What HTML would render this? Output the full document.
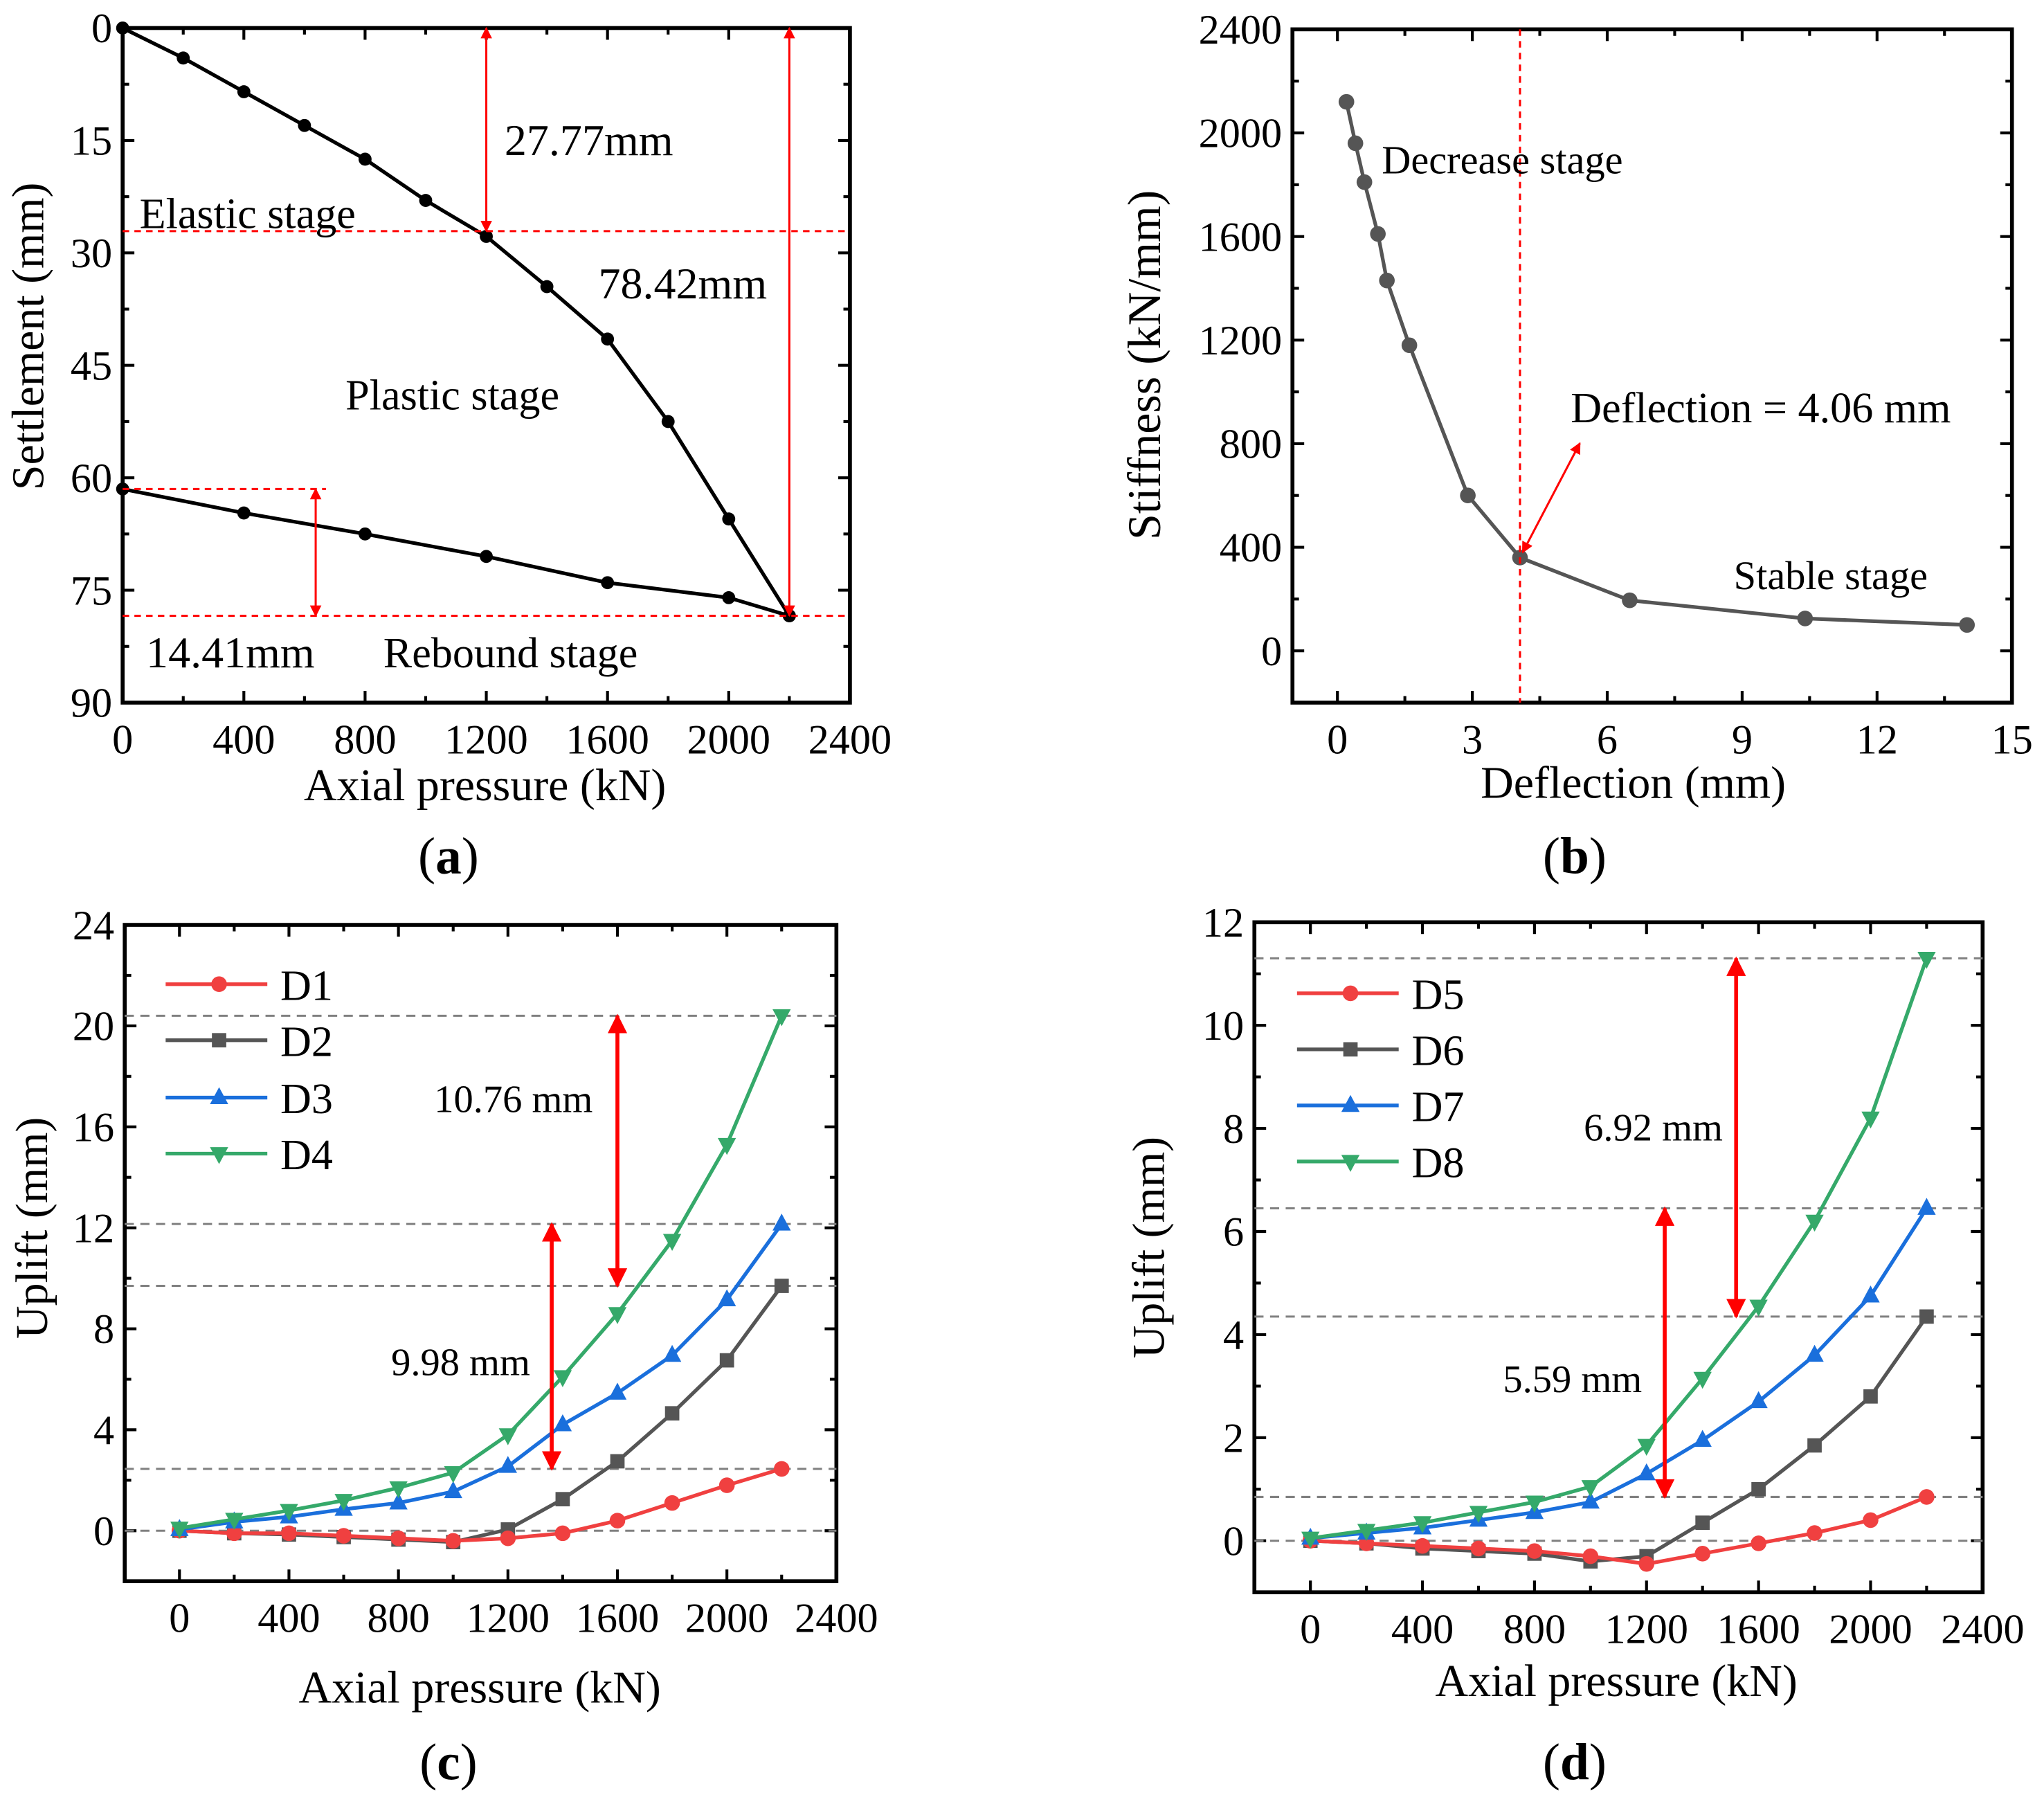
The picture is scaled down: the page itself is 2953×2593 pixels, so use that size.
<!DOCTYPE html>
<html><head><meta charset="utf-8"><style>
html,body{margin:0;padding:0;background:#fff}
svg{display:block}
text{font-family:"Liberation Serif","Times New Roman",serif;fill:#000}
</style></head><body>
<svg id="fig" width="2953" height="2593" viewBox="0 0 1568 1377" xmlns="http://www.w3.org/2000/svg">
<defs>
<marker id="ah" viewBox="0 0 10 10" refX="9" refY="5" markerWidth="5" markerHeight="5" orient="auto-start-reverse"><path d="M0,0 L10,5 L0,10 z" fill="#f00"/></marker>
<marker id="ahb" viewBox="0 0 10 10" refX="9" refY="5" markerWidth="5.5" markerHeight="5.5" orient="auto-start-reverse"><path d="M0,0 L10,5 L0,10 z" fill="#f00"/></marker>
</defs>
</svg>
<script>
// ---------- data ----------
const aLoadX=[0,200,400,600,800,1000,1200,1400,1600,1800,2000,2200];
const aLoadY=[0,4,8.5,13,17.5,23,27.8,34.5,41.5,52.5,65.5,78.42];
const aUnloadX=[2200,2000,1600,1200,800,400,0];
const aUnloadY=[78.42,76,74,70.5,67.5,64.7,61.5];
const bX=[0.2,0.4,0.6,0.9,1.1,1.6,2.9,4.06,6.5,10.4,14];
const bY=[2120,1960,1810,1610,1430,1180,600,360,195,125,100];
const pX=[0,200,400,600,800,1000,1200,1400,1600,1800,2000,2200];
const d1=[0,-0.1,-0.1,-0.2,-0.3,-0.4,-0.3,-0.1,0.4,1.1,1.8,2.45];
const d2=[0,-0.1,-0.15,-0.25,-0.35,-0.45,0.05,1.25,2.75,4.65,6.75,9.7];
const d3=[0.05,0.35,0.55,0.85,1.1,1.55,2.55,4.2,5.45,6.95,9.15,12.15];
const d4=[0.1,0.45,0.8,1.2,1.7,2.3,3.8,6.1,8.6,11.5,15.3,20.4];
const d5=[0,-0.05,-0.1,-0.15,-0.2,-0.3,-0.45,-0.25,-0.05,0.15,0.4,0.85];
const d6=[0,-0.05,-0.15,-0.2,-0.25,-0.4,-0.3,0.35,1.0,1.85,2.8,4.35];
const d7=[0.05,0.15,0.25,0.4,0.55,0.75,1.3,1.95,2.7,3.6,4.75,6.45];
const d8=[0.05,0.2,0.35,0.55,0.75,1.05,1.85,3.15,4.55,6.2,8.2,11.3];
const cRefLines=[0,2.45,9.7,12.15,20.4];
const dRefLines=[0,0.85,4.35,6.45,11.3];
const pTicks=[0,400,800,1200,1600,2000,2400];
const aYTicks=[0,15,30,45,60,75,90];
const bXTicks=[0,3,6,9,12,15];
const bYTicks=[0,400,800,1200,1600,2000,2400];
const cYTicks=[0,4,8,12,16,20,24];
const dYTicks=[0,2,4,6,8,10,12];

const NS="http://www.w3.org/2000/svg";
const svg=document.getElementById('fig');
function el(tag,attrs,parent,txt){const e=document.createElementNS(NS,tag);for(const k in attrs)e.setAttribute(k,attrs[k]);if(txt!==undefined)e.textContent=txt;(parent||svg).appendChild(e);return e;}

function axes(o){
  const g=el('g',{});
  
  
  const sx=v=>o.x0+(v-o.xmin)/(o.xmax-o.xmin)*(o.x1-o.x0);
  const sy=o.yinv?(v=>o.y0+(v-o.ymin)/(o.ymax-o.ymin)*(o.y1-o.y0)):(v=>o.y1-(v-o.ymin)/(o.ymax-o.ymin)*(o.y1-o.y0));
  const tg=el('g',{stroke:'#000','stroke-width':2.2},g);
  for(let v=o.xt0;v<=o.xmax+1e-9;v+=o.xminor){
    const major=Math.abs(((v-o.xt0)/o.xmajor)-Math.round((v-o.xt0)/o.xmajor))<1e-6;const L=major?9:5;const x=sx(v);
    el('line',{x1:x,x2:x,y1:o.y1,y2:o.y1-L},tg);el('line',{x1:x,x2:x,y1:o.y0,y2:o.y0+L},tg);
  }
  for(let v=o.ymin;v<=o.ymax+1e-9;v+=o.yminor){
    if(v<o.yt0-1e-9)continue;
    const major=Math.abs(((v-o.yt0)/o.ymajor)-Math.round((v-o.yt0)/o.ymajor))<1e-6;const L=major?9:5;const y=sy(v);
    el('line',{x1:o.x0,x2:o.x0+L,y1:y,y2:y},tg);el('line',{x1:o.x1,x2:o.x1-L,y1:y,y2:y},tg);
  }
  el('rect',{x:o.x0,y:o.y0,width:o.x1-o.x0,height:o.y1-o.y0,fill:'none',stroke:'#000','stroke-width':3},g);
  o.xticks.forEach(v=>{const t=el('text',{x:sx(v),y:o.y1+o.xlabOff,'font-size':32,'text-anchor':'middle'},g,String(v));});
  o.yticks.forEach(v=>{const t=el('text',{x:o.x0-8,y:sy(v)+11,'font-size':32,'text-anchor':'end'},g,String(v));});
  return {sx,sy,g};
}
function series(ax,xs,ys,color,marker,name,w){
  const g=el('g',{},ax.g);
  
  
  el('polyline',{points:xs.map((x,i)=>ax.sx(x)+','+ax.sy(ys[i])).join(' '),fill:'none',stroke:color,'stroke-width':w||2.8,'stroke-linejoin':'round'},g);
  xs.forEach((x,i)=>drawMarker(g,ax.sx(x),ax.sy(ys[i]),color,marker));
}
function drawMarker(g,x,y,c,m){
  let e;
  if(m==='circle'||m==='dot')e=el('circle',{cx:x,cy:y,r:m==='dot'?5:6,fill:c},g);
  else if(m==='square')e=el('rect',{x:x-5.5,y:y-5.5,width:11,height:11,fill:c},g);
  else if(m==='up')e=el('path',{d:`M${x},${y-8}L${x+7},${y+5}L${x-7},${y+5}Z`,fill:c},g);
  else if(m==='down')e=el('path',{d:`M${x},${y+8}L${x+7},${y-5}L${x-7},${y-5}Z`,fill:c},g);
  
  
}
function txt(x,y,s,size,name,anchor,rot){
  const t=el('text',{x:x,y:y,'font-size':size,'text-anchor':anchor||'start'},svg,s);
  if(rot)t.setAttribute('transform',`rotate(-90 ${x} ${y})`);
  
  
  return t;
}
function redLine(x1,y1,x2,y2,name,dash,arrow,w){
  const a={x1,y1,x2,y2,stroke:'#f00','stroke-width':w||1.6};
  if(dash)a['stroke-dasharray']='5,4';
  if(arrow){a['marker-start']='url(#'+arrow+')';a['marker-end']='url(#'+arrow+')';}
  const l=el('line',a);
  
  
}
function grayLine(ax,v,name){
  const l=el('line',{x1:ax.sx(ax.o.xmin),x2:ax.sx(ax.o.xmax),y1:ax.sy(v),y2:ax.sy(v),stroke:'#808080','stroke-width':1.6,'stroke-dasharray':'7,5'},ax.g);
  
  
}
function legendEntry(x,y,c,m,label,textX){
  const g=el('g',{});
  
  
  el('line',{x1:x,x2:x+78,y1:y,y2:y,stroke:c,'stroke-width':2.8},g);
  drawMarker(g,x+41,y,c,m);
  el('text',{x:textX,y:y+12,'font-size':33},g,label);
}

// ---------- panel a ----------
const oa={name:'panel-a',x0:94,x1:652,y0:21.5,y1:539,xmin:0,xmax:2400,ymin:0,ymax:90,yinv:true,xt0:0,xmajor:400,xminor:200,yt0:0,ymajor:15,yminor:7.5,xticks:pTicks,yticks:aYTicks,xlabOff:39};
const A=axes(oa);A.o=oa;
series(A,aLoadX,aLoadY,'#000','dot','loading-curve',2.8);
series(A,aUnloadX,aUnloadY,'#000','dot','unloading-curve',2.8);
redLine(94,A.sy(27.1),652,A.sy(27.1),'elastic-limit-line',true);
redLine(94,A.sy(78.42),652,A.sy(78.42),'max-settlement-line',true);
redLine(94,A.sy(61.5),250,A.sy(61.5),'rebound-line',true);
redLine(A.sx(1200),A.sy(0),A.sx(1200),A.sy(27.1),'arrow-27-77',false,'ahb');
redLine(A.sx(2200),A.sy(0),A.sx(2200),A.sy(78.42),'arrow-78-42',false,'ahb');
redLine(A.sx(637),A.sy(61.5),A.sx(637),A.sy(78.42),'arrow-14-41',false,'ahb');
txt(387,119,'27.77mm',34,'label-27-77mm');
txt(107,175,'Elastic stage',33,'label-elastic-stage');
txt(459,229,'78.42mm',34,'label-78-42mm');
txt(265,314,'Plastic stage',33,'label-plastic-stage');
txt(112,512,'14.41mm',34,'label-14-41mm');
txt(294,512,'Rebound stage',33,'label-rebound-stage');
txt(33,258,'Settlement (mm)',35,'y-axis-title-a','middle',true);
txt(372,614,'Axial pressure (kN)',35,'x-axis-title-a','middle');
const la=txt(344,670,'',40,'panel-label-a','middle');la.innerHTML='(<tspan font-weight="bold">a</tspan>)';

// ---------- panel b ----------
const ob={name:'panel-b',x0:991.5,x1:1543.5,y0:22.5,y1:539,xmin:-1,xmax:15,ymin:-200,ymax:2400,xt0:0,xmajor:3,xminor:1.5,yt0:0,ymajor:400,yminor:200,xticks:bXTicks,yticks:bYTicks,xlabOff:39};
const B=axes(ob);B.o=ob;
series(B,bX,bY,'#555','circle','stiffness-curve',2.8);
redLine(B.sx(4.06),22.5,B.sx(4.06),539,'deflection-4-06-line',true);
redLine(B.sx(4.06)+2,B.sy(380),1212,340,'deflection-pointer-arrow',false,'ahb');
txt(1060,133,'Decrease stage',31,'label-decrease-stage');
txt(1205,324,'Deflection = 4.06 mm',33,'label-deflection-4-06');
txt(1330,452,'Stable stage',31,'label-stable-stage');
txt(890,280,'Stiffness (kN/mm)',36,'y-axis-title-b','middle',true);
txt(1253,612,'Deflection (mm)',35,'x-axis-title-b','middle');
const lb=txt(1208,670,'',40,'panel-label-b','middle');lb.innerHTML='(<tspan font-weight="bold">b</tspan>)';

// ---------- panel c ----------
const oc={name:'panel-c',x0:95.6,x1:641.6,y0:709.5,y1:1213,xmin:-200,xmax:2400,ymin:-2,ymax:24,xt0:0,xmajor:400,xminor:200,yt0:0,ymajor:4,yminor:2,xticks:pTicks,yticks:cYTicks,xlabOff:39};
const C=axes(oc);C.o=oc;
cRefLines.forEach(v=>grayLine(C,v,'reference-line-c'));
series(C,pX,d2,'#555','square','series-d2');
series(C,pX,d1,'#f04040','circle','series-d1');
series(C,pX,d3,'#1a6fdc','up','series-d3');
series(C,pX,d4,'#35a96a','down','series-d4');
legendEntry(127,755,'#f04040','circle','D1',215);
legendEntry(127,798,'#555','square','D2',215);
legendEntry(127,842,'#1a6fdc','up','D3',215);
legendEntry(127,885,'#35a96a','down','D4',215);
redLine(C.sx(1600),C.sy(20.4),C.sx(1600),C.sy(9.7),'arrow-10-76',false,'ah',3);
redLine(C.sx(1360),C.sy(12.15),C.sx(1360),C.sy(2.45),'arrow-9-98',false,'ah',3);
txt(333,853,'10.76 mm',30,'label-10-76mm');
txt(300,1055,'9.98 mm',30,'label-9-98mm');
txt(36,942,'Uplift (mm)',35,'y-axis-title-c','middle',true);
txt(368,1306,'Axial pressure (kN)',35,'x-axis-title-c','middle');
const lc=txt(344,1365,'',40,'panel-label-c','middle');lc.innerHTML='(<tspan font-weight="bold">c</tspan>)';

// ---------- panel d ----------
const od={name:'panel-d',x0:962.3,x1:1521,y0:707.5,y1:1221.5,xmin:-200,xmax:2400,ymin:-1,ymax:12,xt0:0,xmajor:400,xminor:200,yt0:0,ymajor:2,yminor:1,xticks:pTicks,yticks:dYTicks,xlabOff:39};
const D=axes(od);D.o=od;
dRefLines.forEach(v=>grayLine(D,v,'reference-line-d'));
series(D,pX,d6,'#555','square','series-d6');
series(D,pX,d5,'#f04040','circle','series-d5');
series(D,pX,d7,'#1a6fdc','up','series-d7');
series(D,pX,d8,'#35a96a','down','series-d8');
legendEntry(995,762,'#f04040','circle','D5',1083);
legendEntry(995,805,'#555','square','D6',1083);
legendEntry(995,848,'#1a6fdc','up','D7',1083);
legendEntry(995,891,'#35a96a','down','D8',1083);
redLine(D.sx(1520),D.sy(11.3),D.sx(1520),D.sy(4.35),'arrow-6-92',false,'ah',3);
redLine(D.sx(1265),D.sy(6.45),D.sx(1265),D.sy(0.85),'arrow-5-59',false,'ah',3);
txt(1215,875,'6.92 mm',30,'label-6-92mm');
txt(1153,1068,'5.59 mm',30,'label-5-59mm');
txt(893,957,'Uplift (mm)',35,'y-axis-title-d','middle',true);
txt(1240,1301,'Axial pressure (kN)',35,'x-axis-title-d','middle');
const ld=txt(1208,1365,'',40,'panel-label-d','middle');ld.innerHTML='(<tspan font-weight="bold">d</tspan>)';
</script>
</body></html>
